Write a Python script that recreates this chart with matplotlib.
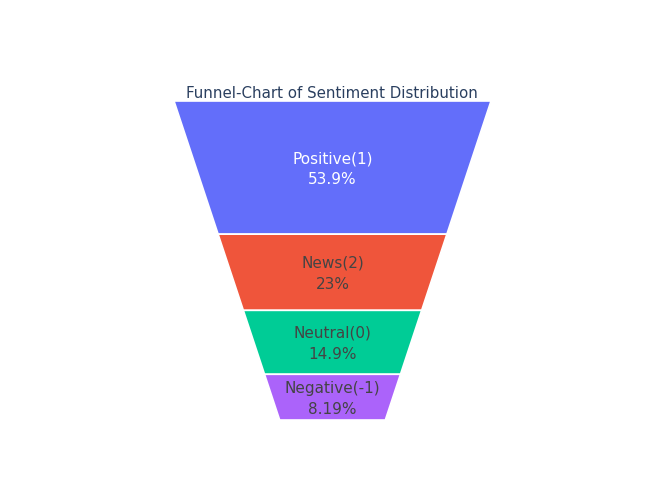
import numpy as np
import matplotlib
matplotlib.use("Agg")
import matplotlib.pyplot as plt

# sentiment share (percent)
labels = ["Positive(1)", "News(2)", "Neutral(0)", "Negative(-1)"]
values = [53.9, 23.0, 14.9, 8.19]
colors = ["#636efa", "#EF553B", "#00cc96", "#ab63fa"]
text_colors = ["white", "#444444", "#444444", "#444444"]

BASE_RATIO = 1 / 3  # bottom width / top width


def depth_for_fraction(f, b=BASE_RATIO):
    # solve cumulative-area fraction f for depth t in [0, 1]
    # area(t) = t - (1-b) t^2 / 2, total = (1+b)/2
    a = (1 - b) / 2
    c = f * (1 + b) / 2
    if a == 0:
        return c
    return (1 - np.sqrt(1 - 4 * a * c)) / (2 * a)


def half_width(t, b=BASE_RATIO):
    return 0.5 * (1 - (1 - b) * t)


plt.rcParams["font.family"] = ["DejaVu Sans"]
fig = plt.figure(figsize=(6.66, 4.94), dpi=100)
ax = fig.add_axes([174 / 666, (494 - 420) / 494, 317 / 666, 319 / 494])
ax.set_xlim(-0.5, 0.5)
ax.set_ylim(1, 0)
ax.axis("off")

vals = np.array(values, dtype=float)
total = vals.sum()
cum = np.concatenate([[0], np.cumsum(vals) / total])
depths = [depth_for_fraction(f) for f in cum]

for i, lab in enumerate(labels):
    t0, t1 = depths[i], depths[i + 1]
    w0, w1 = half_width(t0), half_width(t1)
    ax.fill([-w0, w0, w1, -w1], [t0, t0, t1, t1], color=colors[i],
            edgecolor="white", linewidth=1.2)
    pct = f"{vals[i] / total * 100:.3g}%"
    ax.text(0, (t0 + t1) / 2 + 0.005, f"{lab}\n{pct}", ha="center", va="center",
            color=text_colors[i], fontsize=11, linespacing=1.5)

fig.text(332 / 666, 1 - 93 / 494, "Funnel-Chart of Sentiment Distribution",
         ha="center", va="center", color="#2a3f5f", fontsize=10.8)

fig.savefig("out.png", dpi=100)
